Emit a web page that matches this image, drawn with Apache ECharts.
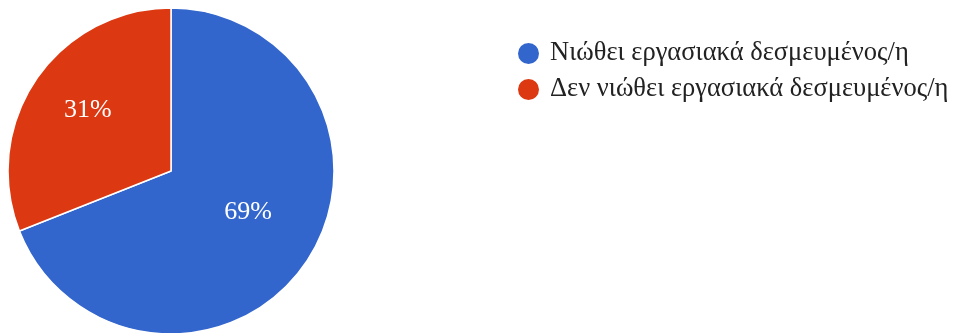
<!DOCTYPE html>
<html>
<head>
<meta charset="utf-8">
<script src="https://cdn.jsdelivr.net/npm/echarts@6/dist/echarts.min.js"></script>
<style>
  html, body { margin: 0; padding: 0; background: #ffffff; }
  #chart { width: 953px; height: 333px; }
</style>
</head>
<body>
<div id="chart"></div>
<script>
// Share of employees by sense of work commitment (percent)
const categories = ['Νιώθει εργασιακά δεσμευμένος/η', 'Δεν νιώθει εργασιακά δεσμευμένος/η'];
const shares = [69, 31];
const colors = ['#3366cc', '#dc3912'];

// small nudges for the percentage labels inside each slice
const labelNudge = [[-8, -17], [2, -3]];

const pieData = categories.map((name, i) => ({ name, value: shares[i] }));

const chart = echarts.init(document.getElementById('chart'), null, { renderer: 'canvas' });
const serif = '"Liberation Serif", "DejaVu Serif", serif';

chart.setOption({
  animation: false,
  color: colors,
  legend: {
    orient: 'vertical',
    left: 511,
    top: 35,
    icon: 'circle',
    itemWidth: 23,
    itemHeight: 23,
    itemGap: 9,
    textStyle: { fontFamily: serif, fontSize: 26.5, color: '#222222', padding: [0, 0, 0, 5] },
    data: categories
  },
  series: [
    {
      type: 'pie',
      center: [171, 171],
      radius: [0, 163],
      startAngle: 90,
      clockwise: true,
      itemStyle: { borderColor: '#ffffff', borderWidth: 1.5 },
      label: { show: false },
      labelLine: { show: false },
      emphasis: { disabled: true },
      data: pieData
    },
    {
      // invisible copy that only carries the percentage labels
      type: 'pie',
      center: [171, 171],
      radius: [0, 200],
      startAngle: 90,
      clockwise: true,
      silent: true,
      itemStyle: { color: 'rgba(0,0,0,0)' },
      label: {
        show: true,
        position: 'inside',
        formatter: p => p.value + '%',
        fontFamily: serif,
        fontSize: 26,
        color: '#ffffff'
      },
      labelLayout: p => ({ dx: labelNudge[p.dataIndex][0], dy: labelNudge[p.dataIndex][1] }),
      labelLine: { show: false },
      emphasis: { disabled: true },
      data: pieData
    }
  ]
});
</script>
</body>
</html>
